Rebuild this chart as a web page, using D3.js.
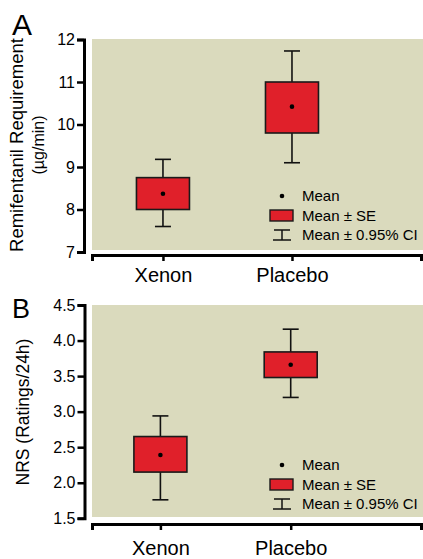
<!DOCTYPE html>
<html>
<head>
<meta charset="utf-8">
<script src="https://cdn.jsdelivr.net/npm/d3@7"></script>
<style>
  body { margin: 0; background: #fff; }
  text { font-family: "Liberation Sans", Arial, sans-serif; fill: #000; }
</style>
</head>
<body>
<svg></svg>
<script>
/* data */
var groups = ["Xenon", "Placebo"];

// panel A: remifentanil requirement (ug/min)
var remiMean   = [8.37, 10.42];
var remiSeLow  = [8.00, 9.80];
var remiSeHigh = [8.75, 11.00];
var remiCiLow  = [7.60, 9.10];
var remiCiHigh = [9.18, 11.73];
var remiTicks  = [7, 8, 9, 10, 11, 12];

// panel B: NRS ratings / 24h
var nrsMean   = [2.39, 3.66];
var nrsSeLow  = [2.15, 3.48];
var nrsSeHigh = [2.65, 3.84];
var nrsCiLow  = [1.76, 3.20];
var nrsCiHigh = [2.94, 4.16];
var nrsTicks  = [1.5, 2.0, 2.5, 3.0, 3.5, 4.0, 4.5];

var legendLabels = ["Mean", "Mean \u00b1 SE", "Mean \u00b1 0.95% CI"];

/* svg setting */
var svgWidth = 423;
var svgHeight = 559;
var bgColor = "#dadabd";
var boxColor = "#e0202a";
var boxWidth = 53;
var capWidth = 16;

var svg = d3.select("svg")
    .attr("width", svgWidth)
    .attr("height", svgHeight);

function makeRows(mean, seLow, seHigh, ciLow, ciHigh) {
  return groups.map(function(g, i) {
    return {group: g, idx: i + 1, mean: mean[i], seLow: seLow[i], seHigh: seHigh[i],
            ciLow: ciLow[i], ciHigh: ciHigh[i]};
  });
}

drawPanel({
  letter: "A", letterY: 35, letterSize: 30,
  titles: [{text: "Remifentanil Requirement", x: 23, size: 18.5},
           {text: "(\u00b5g/min)", x: 44, size: 16}],
  titleY: 145,
  rows: makeRows(remiMean, remiSeLow, remiSeHigh, remiCiLow, remiCiHigh),
  ticks: remiTicks, fmt: d3.format("d"),
  yDomain: [7, 12], yRange: [252, 39.5],
  yAxisX: 84, xAxisY: 255, bgTop: 39, bgBottom: 250,
  xDomain: [0.45, 3], xPad: 7
});

drawPanel({
  letter: "B", letterY: 318, letterSize: 27,
  titles: [{text: "NRS (Ratings/24h)", x: 29, size: 17.5}],
  titleY: 412,
  rows: makeRows(nrsMean, nrsSeLow, nrsSeHigh, nrsCiLow, nrsCiHigh),
  ticks: nrsTicks, fmt: d3.format(".1f"),
  yDomain: [1.5, 4.5], yRange: [518.3, 305],
  yAxisX: 84.5, xAxisY: 524, bgTop: 305, bgBottom: 517,
  xDomain: [0.475, 3], xPad: 11
});

function drawPanel(p) {
  var plotLeft = 92;
  var x = d3.scaleLinear().domain(p.xDomain).range([plotLeft, 421]);
  var y = d3.scaleLinear().domain(p.yDomain).range(p.yRange);
  var g = svg.append("g");

  // background
  g.append("rect")
      .attr("x", plotLeft)
      .attr("y", p.bgTop)
      .attr("width", svgWidth - plotLeft)
      .attr("height", p.bgBottom - p.bgTop)
      .attr("fill", bgColor);

  // y axis
  var yAxis = g.append("g")
      .attr("transform", translate(p.yAxisX, 0))
      .call(d3.axisLeft(y).tickValues(p.ticks).tickFormat(p.fmt)
            .tickSize(7).tickSizeOuter(7).tickPadding(2));
  yAxis.select(".domain").attr("stroke", "#000").attr("stroke-width", 3);
  yAxis.selectAll(".tick line").attr("stroke", "#000").attr("stroke-width", 2.5);
  yAxis.selectAll(".tick text")
      .style("font-family", "Liberation Sans, Arial, sans-serif")
      .style("font-size", "16px");

  // x axis
  var xAxis = g.append("g")
      .attr("transform", translate(0, p.xAxisY))
      .call(d3.axisBottom(x).tickValues([1, 2, 3])
            .tickFormat(function(d) { return groups[d - 1] || ""; })
            .tickSize(6).tickSizeOuter(6).tickPadding(p.xPad));
  xAxis.select(".domain").attr("stroke", "#000").attr("stroke-width", 3);
  xAxis.selectAll(".tick line").attr("stroke", "#000").attr("stroke-width", 2.5);
  xAxis.selectAll(".tick text")
      .style("font-family", "Liberation Sans, Arial, sans-serif")
      .style("font-size", "20px");

  // whiskers (0.95% CI)
  var w = g.selectAll(".whisker").data(p.rows).enter().append("g")
      .attr("stroke", "#111").attr("stroke-width", 1.6);
  w.append("line")
      .attr("x1", function(d) { return x(d.idx); })
      .attr("x2", function(d) { return x(d.idx); })
      .attr("y1", function(d) { return y(d.ciLow); })
      .attr("y2", function(d) { return y(d.ciHigh); });
  w.append("line")
      .attr("x1", function(d) { return x(d.idx) - capWidth / 2; })
      .attr("x2", function(d) { return x(d.idx) + capWidth / 2; })
      .attr("y1", function(d) { return y(d.ciHigh); })
      .attr("y2", function(d) { return y(d.ciHigh); });
  w.append("line")
      .attr("x1", function(d) { return x(d.idx) - capWidth / 2; })
      .attr("x2", function(d) { return x(d.idx) + capWidth / 2; })
      .attr("y1", function(d) { return y(d.ciLow); })
      .attr("y2", function(d) { return y(d.ciLow); });

  // boxes (mean +- SE)
  g.selectAll(".box").data(p.rows).enter().append("rect")
      .attr("x", function(d) { return x(d.idx) - boxWidth / 2; })
      .attr("y", function(d) { return y(d.seHigh); })
      .attr("width", boxWidth)
      .attr("height", function(d) { return y(d.seLow) - y(d.seHigh); })
      .attr("fill", boxColor)
      .attr("stroke", "#1a1a1a")
      .attr("stroke-width", 1.6);

  // mean dots
  g.selectAll(".mean").data(p.rows).enter().append("circle")
      .attr("cx", function(d) { return x(d.idx); })
      .attr("cy", function(d) { return y(d.mean); })
      .attr("r", 2.3)
      .attr("fill", "#000");

  // legend
  var lx = 282, ly = p.xAxisY - 59, step = 19.5;
  var lg = g.append("g").attr("transform", translate(lx, ly));
  lg.append("circle").attr("cx", 0).attr("cy", 0).attr("r", 2.3).attr("fill", "#000");
  lg.append("rect").attr("x", -12).attr("y", step - 5.5).attr("width", 23).attr("height", 11)
      .attr("fill", boxColor).attr("stroke", "#1a1a1a").attr("stroke-width", 1.4);
  var ci = lg.append("g").attr("stroke", "#111").attr("stroke-width", 1.5);
  ci.append("line").attr("x1", -8).attr("x2", 8).attr("y1", 2 * step - 5).attr("y2", 2 * step - 5);
  ci.append("line").attr("x1", -9).attr("x2", 9).attr("y1", 2 * step + 5).attr("y2", 2 * step + 5);
  ci.append("line").attr("x1", 0).attr("x2", 0).attr("y1", 2 * step - 5).attr("y2", 2 * step + 5);
  lg.selectAll(".ltext").data(legendLabels).enter().append("text")
      .attr("x", 20)
      .attr("y", function(d, i) { return i * step; })
      .attr("dy", "0.36em")
      .style("font-size", "15px")
      .text(function(d) { return d; });

  // panel letter
  g.append("text")
      .attr("x", 12)
      .attr("y", p.letterY)
      .style("font-size", p.letterSize + "px")
      .text(p.letter);

  // y titles
  p.titles.forEach(function(t) {
    g.append("text")
        .attr("transform", translate(t.x, p.titleY) + " rotate(-90)")
        .attr("text-anchor", "middle")
        .style("font-size", t.size + "px")
        .text(t.text);
  });
}

function translate(x, y) {
  return "translate(" + x + "," + y + ")";
}
</script>
</body>
</html>
